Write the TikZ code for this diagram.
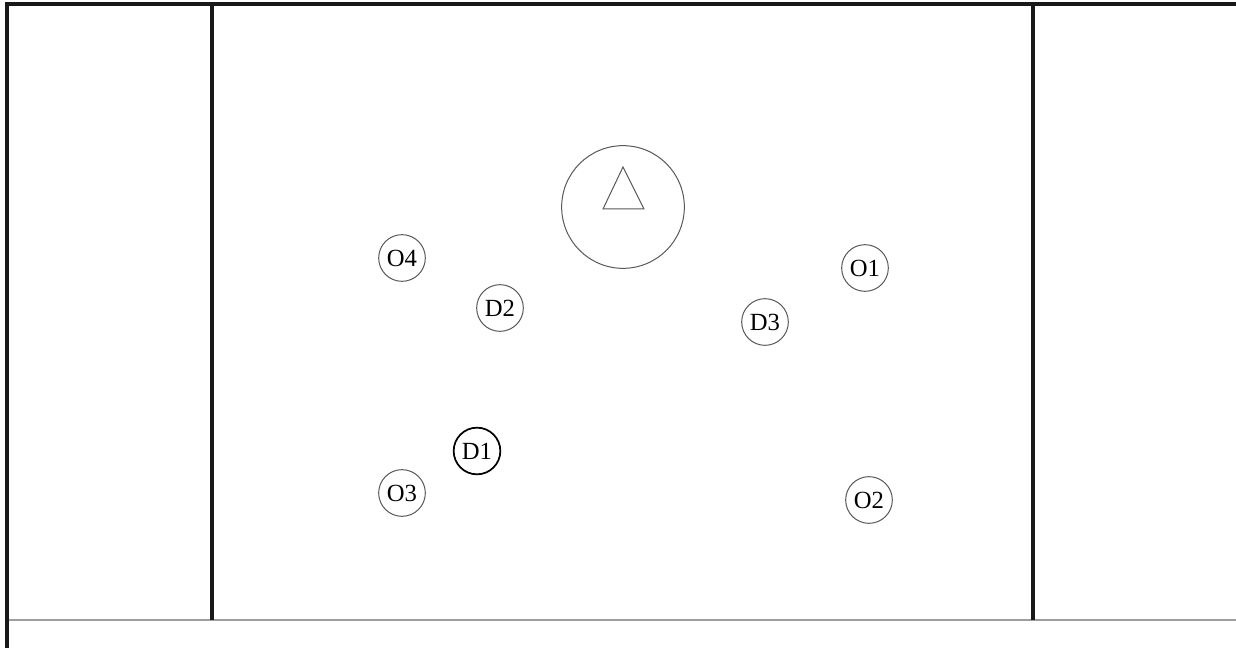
\documentclass[tikz,border=0pt]{standalone}
\usepackage{fontspec}
\setmainfont{Liberation Serif}
\begin{document}
\begin{tikzpicture}[x=0.75pt,y=-0.75pt,
  wall/.style={line width=2.6pt,draw=black!90},
  floor/.style={line width=1.2pt,draw=black!38},
  player/.style={circle,draw=black!65,line width=0.75pt,minimum size=35pt,inner sep=0pt,font=\fontsize{18.5}{18.5}\selectfont},
  strong/.style={draw=black,line width=1.3pt},
  ball/.style={circle,draw=black!65,line width=0.75pt,minimum size=92pt,inner sep=0pt}]
\useasboundingbox (0,0) rectangle (1236,648);
\fill[white] (0,0) rectangle (1236,648);
% walls
\coordinate (tl) at (7,4);
\coordinate (tr) at (1236,4);
\coordinate (bl) at (7,648);
\coordinate (fl) at (7,620);
\coordinate (fr) at (1236,620);
\coordinate (m1t) at (212,4);
\coordinate (m1b) at (212,620);
\coordinate (m2t) at (1033,4);
\coordinate (m2b) at (1033,620);
\draw[floor] (fl) -- (fr);
\draw[wall] (tr) -- (tl) -- (bl);
\draw[wall] (m1t) -- (m1b);
\draw[wall] (m2t) -- (m2b);
% centre circle with triangle
\node[ball] (big) at (623,207) {};
\coordinate (ta) at (623,167);
\coordinate (tb) at (603,209);
\coordinate (tc) at (644,209);
\draw[draw=black!65,line width=0.75pt] (ta) -- (tb) -- (tc) -- cycle;
% players
\node[player] (O4) at (402,258) {O4};
\node[player] (D2) at (500,308) {D2};
\node[player,strong] (D1) at (477,451) {D1};
\node[player] (O3) at (402,493) {O3};
\node[player] (D3) at (765,322) {D3};
\node[player] (O1) at (865,268) {O1};
\node[player] (O2) at (869,500) {O2};
\end{tikzpicture}
\end{document}
